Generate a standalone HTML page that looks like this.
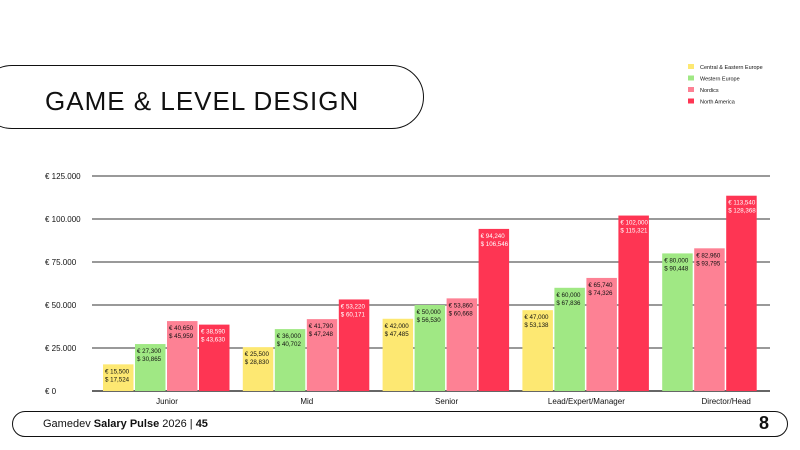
<!DOCTYPE html>
<html><head><meta charset="utf-8"><style>
body{margin:0;width:800px;height:450px;background:#fff;overflow:hidden;font-family:"Liberation Sans",sans-serif;position:relative}
.title{position:absolute;left:-20px;top:65px;width:444px;height:64px;border:1.5px solid #111;border-radius:32px;box-sizing:border-box}
.title span{position:absolute;left:64px;top:20px;font-size:26px;letter-spacing:1px;color:#111}
.footer{position:absolute;left:12px;top:411px;width:776px;height:26px;border:1.2px solid #111;border-radius:13px;box-sizing:border-box;font-size:11px;color:#111}
.footer .t{position:absolute;left:30px;top:6px}
.footer .e{position:absolute;right:18px;top:1px;font-size:18px;font-weight:bold}
</style></head><body>
<div class="title"><span>GAME &amp; LEVEL DESIGN</span></div>
<svg id="chart" width="800" height="450" style="position:absolute;left:0;top:0"></svg>
<div class="footer"><span class="t">Gamedev <b>Salary Pulse</b> 2026 | <b>45</b></span><span class="e">8</span></div>
<script>
const categories=["Junior","Mid","Senior","Lead/Expert/Manager","Director/Head"];
const seriesNames=["Central & Eastern Europe","Western Europe","Nordics","North America"];
const colors=["#fde872","#a0e884","#fd8194","#fe3553"];
const eur=[[15500,25500,42000,47000,null],[27300,36000,50000,60000,80000],[40650,41790,53860,65740,82960],[38590,53220,94240,102000,113540]];
const usd=["17,524|28,830|47,485|53,138|","30,865|40,702|56,530|67,836|90,448","45,959|47,248|60,668|74,326|93,795","43,630|60,171|106,546|115,321|128,368"].map(s=>s.split("|"));
const ticks=[0,25000,50000,75000,100000,125000];
const tickLabels=["€ 0","€ 25.000","€ 50.000","€ 75.000","€ 100.000","€ 125.000"];
const svg=document.getElementById('chart'),NS="http://www.w3.org/2000/svg";
const y=v=>391-v*215/125000;
const x=(g,k)=>103+g*139.8+k*32;
function mk(t,a,p){const e=document.createElementNS(NS,t);for(const k in a)e.setAttribute(k,a[k]);(p||svg).appendChild(e);return e;}
ticks.forEach((t,i)=>{
 const l=mk('line',{x1:92,x2:770,y1:y(t),y2:y(t),stroke:'#333','stroke-width':i==0?1.5:1});
 
 
 const tx=mk('text',{x:45,y:y(t)+3,'font-size':8,fill:'#111'});tx.textContent=tickLabels[i];
 
 
});
categories.forEach((c,g)=>{
 const present=[0,1,2,3].filter(s=>eur[s][g]!=null);
 const off=(4-present.length)/2*32;
 const cx=x(g,0)+64;
 const tx=mk('text',{x:cx,y:404,'font-size':8,fill:'#111','text-anchor':'middle'});tx.textContent=c;
 
 
 present.forEach((s,k)=>{const v=eur[s][g];
  const bx=x(g,k)+(present.length<4?off-16:0);
  const r=mk('rect',{x:bx,y:y(v),width:30.5,height:391-y(v),fill:colors[s]});
  
  
  const fc=s==3?'#fff':'#111';
  const t1=mk('text',{x:bx+2,y:y(v)+9,'font-size':6.2,fill:fc});t1.textContent='€ '+v.toLocaleString('en-US');
  
  
  const t2=mk('text',{x:bx+2,y:y(v)+17,'font-size':6.2,fill:fc});t2.textContent='$ '+usd[s][g];
  
  
 });
});
seriesNames.forEach((n,i)=>{
 const r=mk('rect',{x:688,y:64+i*11.5,width:6,height:5,fill:colors[i]});
 
 
 const t=mk('text',{x:700,y:69+i*11.5,'font-size':5.5,fill:'#111'});t.textContent=n;
 
 
});
</script>
</body></html>
